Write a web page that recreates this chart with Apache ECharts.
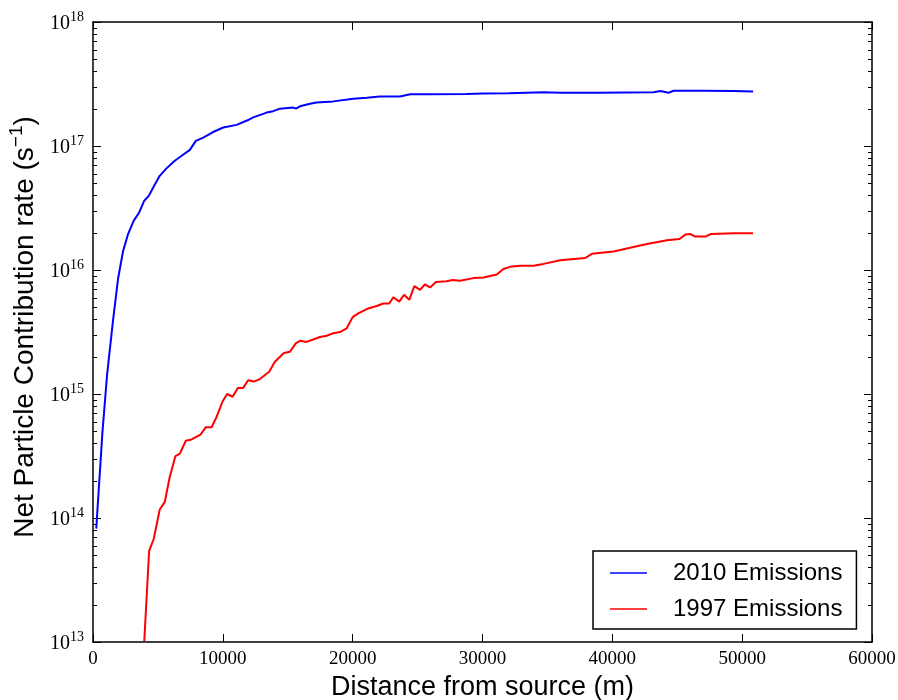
<!DOCTYPE html>
<html>
<head>
<meta charset="utf-8">
<script src="https://cdn.jsdelivr.net/npm/echarts@6/dist/echarts.min.js"></script>
<style>html,body{margin:0;padding:0;background:#fff;}#c{width:898px;height:700px;}</style>
</head>
<body>
<div id="c"></div>
<script>
// Distance from source (m)
const dist2010 = [250, 400, 720, 1080, 1540, 1930, 2310, 2700, 3140, 3550, 3930, 4320, 4760, 5140, 5660, 6300, 6940, 7460, 7920, 8490, 8870, 9210, 10030, 11060, 11950, 12340, 13370, 13880, 14400, 15420, 15630, 15940, 16710, 17220, 18500, 20050, 21080, 22100, 23650, 24420, 26000, 28790, 30000, 32000, 34700, 36000, 39070, 41000, 43180, 43700, 44330, 44720, 47000, 49350, 50840];
const rate2010 = [8.2e13, 8.2e13, 4.8e14, 1.41e15, 3.9e15, 8.5e15, 1.41e16, 1.95e16, 2.5e16, 2.9e16, 3.6e16, 4.0e16, 4.9e16, 5.75e16, 6.6e16, 7.6e16, 8.5e16, 9.3e16, 1.1e17, 1.17e17, 1.23e17, 1.29e17, 1.41e17, 1.48e17, 1.62e17, 1.70e17, 1.86e17, 1.91e17, 2.0e17, 2.04e17, 2.0e17, 2.09e17, 2.19e17, 2.24e17, 2.29e17, 2.40e17, 2.45e17, 2.51e17, 2.51e17, 2.61e17, 2.62e17, 2.63e17, 2.65e17, 2.66e17, 2.71e17, 2.69e17, 2.69e17, 2.70e17, 2.71e17, 2.78e17, 2.69e17, 2.79e17, 2.79e17, 2.78e17, 2.75e17];

const dist1997 = [3950, 4320, 4680, 5140, 5530, 5910, 6350, 6690, 7150, 7590, 8280, 8690, 9130, 9510, 9980, 10330, 10750, 11160, 11570, 11950, 12390, 12850, 13570, 14010, 14700, 15170, 15630, 15990, 16450, 16960, 17480, 17990, 18500, 19020, 19540, 20000, 20430, 21200, 21850, 22360, 22820, 23130, 23590, 23960, 24360, 24750, 25190, 25570, 25960, 26420, 27240, 27710, 28270, 29300, 30070, 31100, 31610, 32130, 32900, 33920, 34700, 35980, 37910, 38430, 40090, 41630, 42670, 44210, 45180, 45620, 46010, 46390, 47160, 47600, 49350, 50840];
const rate1997 = [1.02e13, 5.4e13, 6.8e13, 1.17e14, 1.35e14, 2.14e14, 3.16e14, 3.3e14, 4.2e14, 4.3e14, 4.7e14, 5.4e14, 5.4e14, 6.5e14, 8.7e14, 1.0e15, 9.5e14, 1.12e15, 1.12e15, 1.29e15, 1.26e15, 1.32e15, 1.51e15, 1.82e15, 2.14e15, 2.19e15, 2.57e15, 2.69e15, 2.63e15, 2.75e15, 2.88e15, 2.95e15, 3.09e15, 3.16e15, 3.39e15, 4.17e15, 4.47e15, 4.9e15, 5.13e15, 5.37e15, 5.37e15, 6.03e15, 5.56e15, 6.31e15, 5.75e15, 7.41e15, 6.92e15, 7.67e15, 7.24e15, 8.0e15, 8.13e15, 8.3e15, 8.2e15, 8.6e15, 8.7e15, 9.2e15, 1.02e16, 1.06e16, 1.08e16, 1.08e16, 1.12e16, 1.20e16, 1.25e16, 1.35e16, 1.41e16, 1.53e16, 1.62e16, 1.74e16, 1.78e16, 1.93e16, 1.95e16, 1.86e16, 1.86e16, 1.95e16, 1.98e16, 1.98e16];

const seriesNames = ['2010 Emissions', '1997 Emissions'];
const xTicks = [0, 10000, 20000, 30000, 40000, 50000, 60000];
const yDecades = [13, 14, 15, 16, 17, 18];
const minorMult = [2, 3, 4, 5, 6, 7, 8, 9];

const minorVals = [];
for (let d = 13; d < 18; d++) for (const m of minorMult) minorVals.push([0, m * Math.pow(10, d)]);

const serif = 'Liberation Serif';
const sans = 'Liberation Sans';
const blue = '#0000ff';
const red = '#ff0000';

const chart = echarts.init(document.getElementById('c'), null, {renderer: 'canvas'});

const yLabelRich = {
  b: {fontFamily: serif, fontSize: 20, color: '#000', verticalAlign: 'bottom', lineHeight: 24},
  s: {fontFamily: serif, fontSize: 14, color: '#000', verticalAlign: 'top', lineHeight: 24, padding: [0, 0, 6, 0]}
};

function yFmt(v) {
  const e = Math.round(Math.log10(v));
  return '{b|10}{s|' + e + '}';
}

const option = {
  backgroundColor: '#fff',
  animation: false,
  grid: {left: 93, right: 26, top: 22, bottom: 58, containLabel: false, outerBoundsMode: 'none'},
  legend: {
    data: [
      {name: seriesNames[0], icon: 'rect', itemStyle: {color: blue}},
      {name: seriesNames[1], icon: 'rect', itemStyle: {color: red}}
    ],
    orient: 'vertical',
    left: 593,
    top: 551,
    width: 267,
    backgroundColor: '#fff',
    borderColor: '#000',
    borderWidth: 1.5,
    borderRadius: 0,
    padding: [10, 14, 8, 17],
    itemGap: 12,
    itemWidth: 37,
    itemHeight: 1.5,
    textStyle: {fontFamily: sans, fontSize: 24, color: '#000', lineHeight: 24, padding: [0, 0, 0, 21]}
  },
  xAxis: [{
    type: 'value',
    min: 0, max: 60000, interval: 10000,
    position: 'bottom',
    name: 'Distance from source (m)',
    nameLocation: 'middle',
    nameGap: 30,
    nameTextStyle: {fontFamily: sans, fontSize: 27, color: '#000'},
    axisLine: {show: true, onZero: false, lineStyle: {color: '#000', width: 1.5}},
    axisTick: {show: true, inside: true, length: 8, lineStyle: {color: '#000', width: 1}},
    axisLabel: {fontFamily: serif, fontSize: 19, color: '#000', margin: 8,
      formatter: v => xTicks.includes(v) ? String(v) : ''},
    splitLine: {show: false}
  }, {
    type: 'value',
    min: 0, max: 60000, interval: 10000,
    position: 'top',
    axisLine: {show: true, onZero: false, lineStyle: {color: '#000', width: 1.5}},
    axisTick: {show: true, inside: true, length: 8, lineStyle: {color: '#000', width: 1}},
    axisLabel: {show: false},
    splitLine: {show: false}
  }],
  yAxis: [{
    type: 'log',
    logBase: 10,
    min: 1e13, max: 1e18,
    position: 'left',
    name: '{a|Net Particle Contribution rate (s}{u|\u22121}{a|)}',
    nameLocation: 'middle',
    nameRotate: 90,
    nameGap: 54,
    nameTextStyle: {
      padding: [0, 0, 0, 10],
      rich: {
        a: {fontFamily: sans, fontSize: 28, color: '#000', verticalAlign: 'bottom', lineHeight: 32},
        u: {fontFamily: sans, fontSize: 19, color: '#000', verticalAlign: 'top', lineHeight: 32}
      }
    },
    axisLine: {show: true, onZero: false, lineStyle: {color: '#000', width: 1.5}},
    axisTick: {show: true, inside: true, length: 8, lineStyle: {color: '#000', width: 1}},
    axisLabel: {margin: 9, formatter: yFmt, rich: yLabelRich},
    splitLine: {show: false}
  }, {
    type: 'log',
    logBase: 10,
    min: 1e13, max: 1e18,
    position: 'right',
    axisLine: {show: true, onZero: false, lineStyle: {color: '#000', width: 1.5}},
    axisTick: {show: true, inside: true, length: 8, lineStyle: {color: '#000', width: 1}},
    axisLabel: {show: false},
    splitLine: {show: false}
  }],
  series: [{
    name: seriesNames[0],
    type: 'line',
    xAxisIndex: 0, yAxisIndex: 0,
    data: dist2010.map((d, i) => [d, rate2010[i]]),
    symbol: 'none',
    lineStyle: {color: blue, width: 2},
    itemStyle: {color: blue}
  }, {
    name: seriesNames[1],
    type: 'line',
    xAxisIndex: 0, yAxisIndex: 0,
    data: dist1997.map((d, i) => [d, rate1997[i]]),
    symbol: 'none',
    lineStyle: {color: red, width: 2},
    itemStyle: {color: red}
  }, {
    name: 'minorTicks',
    type: 'custom',
    xAxisIndex: 0, yAxisIndex: 0,
    data: minorVals,
    clip: false,
    silent: true,
    renderItem: function (params, api) {
      const p = api.coord([0, api.value(1)]);
      const cs = params.coordSys;
      const y = Math.round(p[1]) + 0.5;
      const x0 = cs.x, x1 = cs.x + cs.width;
      return {
        type: 'group',
        children: [
          {type: 'line', shape: {x1: x0, y1: y, x2: x0 + 4, y2: y}, style: {stroke: '#000', lineWidth: 1}},
          {type: 'line', shape: {x1: x1 - 4, y1: y, x2: x1, y2: y}, style: {stroke: '#000', lineWidth: 1}}
        ]
      };
    }
  }]
};

chart.setOption(option);
</script>
</body>
</html>
